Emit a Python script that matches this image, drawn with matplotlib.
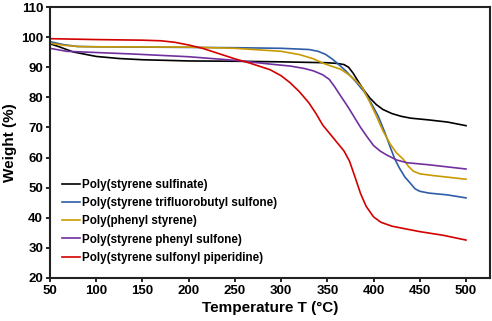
import matplotlib
matplotlib.use('Agg')
import matplotlib.pyplot as plt

plt.rcParams['font.family'] = ['Liberation Sans', 'DejaVu Sans']
plt.rcParams['font.weight'] = 'bold'

# TGA curves
sulfinate_t = [50, 60, 75, 100, 125, 150, 200, 250, 300, 350, 360, 368, 373, 378, 384, 390, 396, 403, 410, 420, 430, 440, 460, 480, 500]
sulfinate_w = [97.8, 96.8, 95.1, 93.6, 92.9, 92.5, 92.1, 92.0, 91.8, 91.5, 91.3, 90.9, 90.0, 88.0, 85.0, 82.2, 79.8, 77.6, 76.0, 74.6, 73.7, 73.1, 72.5, 71.8, 70.6]

trifluoro_t = [50, 65, 80, 100, 200, 250, 300, 330, 340, 348, 355, 362, 370, 380, 390, 398, 405, 412, 418, 423, 428, 434, 440, 445, 450, 460, 480, 500]
trifluoro_w = [98.5, 97.5, 96.9, 96.8, 96.6, 96.5, 96.3, 95.9, 95.3, 94.3, 92.8, 91.0, 88.8, 85.5, 81.8, 77.8, 73.8, 68.5, 63.5, 59.5, 56.5, 53.5, 51.4, 49.6, 48.8, 48.2, 47.6, 46.6]

phenyl_t = [50, 65, 80, 100, 200, 250, 300, 320, 335, 345, 355, 364, 372, 380, 388, 395, 402, 410, 418, 425, 432, 438, 443, 450, 465, 480, 500]
phenyl_w = [98.0, 97.3, 96.9, 96.8, 96.7, 96.3, 95.3, 94.2, 92.8, 91.4, 90.3, 89.4, 87.8, 85.8, 83.2, 79.0, 74.5, 69.0, 64.5, 61.5, 59.5, 57.0, 55.5, 54.6, 54.0, 53.5, 52.8]

phsulfone_t = [50, 68, 100, 140, 200, 250, 290, 310, 325, 335, 345, 352, 358, 365, 372, 380, 386, 393, 400, 407, 414, 425, 436, 460, 500]
phsulfone_w = [96.3, 95.3, 94.9, 94.4, 93.5, 92.3, 91.0, 90.4, 89.6, 88.8, 87.5, 86.0, 83.5, 80.2, 77.0, 73.0, 70.0, 66.9, 64.0, 62.2, 60.9, 59.2, 58.3, 57.6, 56.2]

piperidine_t = [50, 100, 150, 170, 185, 200, 216, 235, 250, 266, 288, 300, 310, 320, 330, 338, 345, 352, 360, 368, 374, 380, 386, 392, 400, 408, 420, 450, 475, 500]
piperidine_w = [99.5, 99.2, 99.0, 98.8, 98.3, 97.4, 96.2, 94.3, 92.8, 91.4, 89.2, 87.2, 84.8, 81.8, 78.2, 74.5, 70.8, 68.2, 65.2, 62.2, 58.8, 53.5, 48.0, 43.8, 40.3, 38.5, 37.2, 35.4, 34.2, 32.6]

labels = ['Poly(styrene sulfinate)',
          'Poly(styrene trifluorobutyl sulfone)',
          'Poly(phenyl styrene)',
          'Poly(styrene phenyl sulfone)',
          'Poly(styrene sulfonyl piperidine)']
colors = ['#000000', '#2F5DA8', '#C99A00', '#7030A0', '#D40000']

fig = plt.figure(figsize=(4.92, 3.21), dpi=100)
ax = fig.add_axes([0.1016, 0.134, 0.8944, 0.844])

series = [(sulfinate_t, sulfinate_w), (trifluoro_t, trifluoro_w), (phenyl_t, phenyl_w),
          (phsulfone_t, phsulfone_w), (piperidine_t, piperidine_w)]
for (t, w), lab, c in zip(series, labels, colors):
    ax.plot(t, w, color=c, lw=1.2, label=lab)

ax.set_xlim(50, 526)
ax.set_ylim(20, 110)
ax.set_xticks(range(50, 501, 50))
ax.set_yticks(range(20, 111, 10))
ax.tick_params(direction='out', length=3, width=1.2, labelsize=9.5, pad=2)
for lab in ax.get_xticklabels() + ax.get_yticklabels():
    lab.set_fontweight('bold')
for sp in ax.spines.values():
    sp.set_linewidth(1.5)
    sp.set_color('#222222')

ax.set_xlabel('Temperature T (°C)', fontsize=11, fontweight='bold', labelpad=3)
ax.set_ylabel('Weight (%)', fontsize=11, fontweight='bold', labelpad=3)

ax.legend(loc='lower left', bbox_to_anchor=(0.008, 0.022), frameon=False,
          prop={'size': 8.4, 'weight': 'bold'}, handlelength=1.55,
          handletextpad=0.15, labelspacing=0.54, borderpad=0.2)

fig.savefig('out.png', dpi=100)
